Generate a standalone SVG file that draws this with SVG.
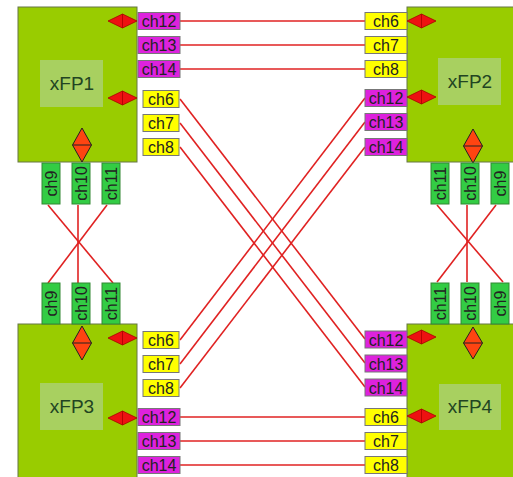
<svg xmlns="http://www.w3.org/2000/svg" width="513" height="477" viewBox="0 0 513 477">
<style>
.box{fill:#99cc00;stroke:#667744;stroke-width:1}
.lbl{fill:#a8d060}
.lt{font-family:"Liberation Sans",Arial,sans-serif;font-size:19px;fill:#224422;text-anchor:middle}
.pm{fill:#dd22dd;stroke:#777777;stroke-width:1}
.py{fill:#ffff00;stroke:#777777;stroke-width:1}
.pg{fill:#33cc44;stroke:#338833;stroke-width:1}
.pt{font-family:"Liberation Sans",Arial,sans-serif;font-size:16px;fill:#222222;text-anchor:middle}
.vt{font-family:"Liberation Sans",Arial,sans-serif;font-size:16px;fill:#222222;text-anchor:middle}
.hd{fill:#ee1111;stroke:#aa0000;stroke-width:0.8}
.vd{fill:#ff4411;stroke:#222222;stroke-width:1}
.ln{stroke:#e02222;stroke-width:1.6;fill:none}
</style>
<g id="connectors">
<line class="ln" x1="180" y1="21" x2="365" y2="21"/>
<line class="ln" x1="180" y1="45" x2="365" y2="45"/>
<line class="ln" x1="180" y1="69" x2="365" y2="69"/>
<line class="ln" x1="180" y1="417" x2="365" y2="417"/>
<line class="ln" x1="180" y1="441" x2="365" y2="441"/>
<line class="ln" x1="180" y1="465" x2="365" y2="465"/>
<line class="ln" x1="180" y1="99" x2="365" y2="339"/>
<line class="ln" x1="180" y1="123" x2="365" y2="363"/>
<line class="ln" x1="180" y1="147" x2="365" y2="387"/>
<line class="ln" x1="180" y1="340" x2="365" y2="98"/>
<line class="ln" x1="180" y1="364" x2="365" y2="122"/>
<line class="ln" x1="180" y1="388" x2="365" y2="147"/>
<line class="ln" x1="48" y1="205" x2="113" y2="283"/>
<line class="ln" x1="107" y1="205" x2="48" y2="283"/>
<line class="ln" x1="78" y1="205" x2="78" y2="283"/>
<line class="ln" x1="437" y1="205" x2="503" y2="282"/>
<line class="ln" x1="496" y1="205" x2="437" y2="282"/>
<line class="ln" x1="467" y1="205" x2="467" y2="282"/>
</g>
<g id="xFP1">
<rect class="box" x="18" y="7" width="119" height="155"/>
<rect class="lbl" x="40" y="60" width="63" height="47"/>
<text class="lt" x="72" y="90">xFP1</text>
<rect class="pm" x="138" y="12.5" width="42" height="17"/><text class="pt" x="159" y="27">ch12</text>
<rect class="pm" x="138" y="36.5" width="42" height="17"/><text class="pt" x="159" y="51">ch13</text>
<rect class="pm" x="138" y="60.5" width="42" height="17"/><text class="pt" x="159" y="75">ch14</text>
<rect class="py" x="143" y="90.5" width="36" height="17"/><text class="pt" x="161" y="105">ch6</text>
<rect class="py" x="143" y="114.5" width="36" height="17"/><text class="pt" x="161" y="129">ch7</text>
<rect class="py" x="143" y="138.5" width="36" height="17"/><text class="pt" x="161" y="153">ch8</text>
<path class="hd" d="M108,21 L122.5,14 L137,21 L122.5,28 Z M122.5,14 V28"/>
<path class="hd" d="M108,98 L122.5,91 L137,98 L122.5,105 Z M122.5,91 V105"/>
<path class="vd" d="M82,128 L91.5,145 L82,162 L72.5,145 Z M72.5,145 H91.5"/>
<rect class="pg" x="42" y="163" width="18" height="41"/><text class="vt" transform="translate(56.5,183.5) rotate(-90)">ch9</text>
<rect class="pg" x="72" y="163" width="18" height="41"/><text class="vt" transform="translate(86.5,183.5) rotate(-90)">ch10</text>
<rect class="pg" x="102" y="163" width="18" height="41"/><text class="vt" transform="translate(116.5,183.5) rotate(-90)">ch11</text>
</g>
<g id="xFP2">
<rect class="box" x="407" y="7" width="110" height="155"/>
<rect class="lbl" x="438" y="58" width="63" height="47"/>
<text class="lt" x="470" y="88">xFP2</text>
<rect class="py" x="365" y="12.5" width="42" height="17"/><text class="pt" x="386" y="27">ch6</text>
<rect class="py" x="365" y="36.5" width="42" height="17"/><text class="pt" x="386" y="51">ch7</text>
<rect class="py" x="365" y="60.5" width="42" height="17"/><text class="pt" x="386" y="75">ch8</text>
<rect class="pm" x="365" y="89.5" width="42" height="17"/><text class="pt" x="386" y="104">ch12</text>
<rect class="pm" x="365" y="113.5" width="42" height="17"/><text class="pt" x="386" y="128">ch13</text>
<rect class="pm" x="365" y="138.5" width="42" height="17"/><text class="pt" x="386" y="153">ch14</text>
<path class="hd" d="M407,21 L421.5,14 L436,21 L421.5,28 Z M421.5,14 V28"/>
<path class="hd" d="M407,97 L421.5,90 L436,97 L421.5,104 Z M421.5,90 V104"/>
<path class="vd" d="M473,129 L482.5,146 L473,163 L463.5,146 Z M463.5,146 H482.5"/>
<rect class="pg" x="431" y="163" width="18" height="41"/><text class="vt" transform="translate(445.5,183.5) rotate(-90)">ch11</text>
<rect class="pg" x="461" y="163" width="18" height="41"/><text class="vt" transform="translate(475.5,183.5) rotate(-90)">ch10</text>
<rect class="pg" x="491" y="163" width="18" height="41"/><text class="vt" transform="translate(505.5,183.5) rotate(-90)">ch9</text>
</g>
<g id="xFP3">
<rect class="box" x="18" y="324" width="119" height="160"/>
<rect class="lbl" x="40" y="383" width="63" height="47"/>
<text class="lt" x="72" y="413">xFP3</text>
<rect class="py" x="143" y="331.5" width="36" height="17"/><text class="pt" x="161" y="346">ch6</text>
<rect class="py" x="143" y="355.5" width="36" height="17"/><text class="pt" x="161" y="370">ch7</text>
<rect class="py" x="143" y="379.5" width="36" height="17"/><text class="pt" x="161" y="394">ch8</text>
<rect class="pm" x="138" y="408.5" width="42" height="17"/><text class="pt" x="159" y="423">ch12</text>
<rect class="pm" x="138" y="432.5" width="42" height="17"/><text class="pt" x="159" y="447">ch13</text>
<rect class="pm" x="138" y="456.5" width="42" height="17"/><text class="pt" x="159" y="471">ch14</text>
<path class="hd" d="M108,338 L122.5,331 L137,338 L122.5,345 Z M122.5,331 V345"/>
<path class="hd" d="M108,418 L122.5,411 L137,418 L122.5,425 Z M122.5,411 V425"/>
<path class="vd" d="M82,326 L91.5,343 L82,360 L72.5,343 Z M72.5,343 H91.5"/>
<rect class="pg" x="42" y="283" width="18" height="41"/><text class="vt" transform="translate(56.5,303.5) rotate(-90)">ch9</text>
<rect class="pg" x="72" y="283" width="18" height="41"/><text class="vt" transform="translate(86.5,303.5) rotate(-90)">ch10</text>
<rect class="pg" x="102" y="283" width="18" height="41"/><text class="vt" transform="translate(116.5,303.5) rotate(-90)">ch11</text>
</g>
<g id="xFP4">
<rect class="box" x="407" y="324" width="110" height="160"/>
<rect class="lbl" x="439" y="384" width="62" height="46"/>
<text class="lt" x="470" y="413">xFP4</text>
<rect class="pm" x="365" y="331" width="42" height="17"/><text class="pt" x="386" y="345.5">ch12</text>
<rect class="pm" x="365" y="355" width="42" height="17"/><text class="pt" x="386" y="369.5">ch13</text>
<rect class="pm" x="365" y="379" width="42" height="17"/><text class="pt" x="386" y="393.5">ch14</text>
<rect class="py" x="365" y="408.5" width="42" height="17"/><text class="pt" x="386" y="423">ch6</text>
<rect class="py" x="365" y="432.5" width="42" height="17"/><text class="pt" x="386" y="447">ch7</text>
<rect class="py" x="365" y="456.5" width="42" height="17"/><text class="pt" x="386" y="471">ch8</text>
<path class="hd" d="M407,337 L421.5,330 L436,337 L421.5,344 Z M421.5,330 V344"/>
<path class="hd" d="M407,416 L421.5,409 L436,416 L421.5,423 Z M421.5,409 V423"/>
<path class="vd" d="M473,327 L482.5,343 L473,359 L463.5,343 Z M463.5,343 H482.5"/>
<rect class="pg" x="431" y="283" width="18" height="41"/><text class="vt" transform="translate(445.5,303.5) rotate(-90)">ch11</text>
<rect class="pg" x="461" y="283" width="18" height="41"/><text class="vt" transform="translate(475.5,303.5) rotate(-90)">ch10</text>
<rect class="pg" x="491" y="283" width="18" height="41"/><text class="vt" transform="translate(505.5,303.5) rotate(-90)">ch9</text>
</g>
</svg>
